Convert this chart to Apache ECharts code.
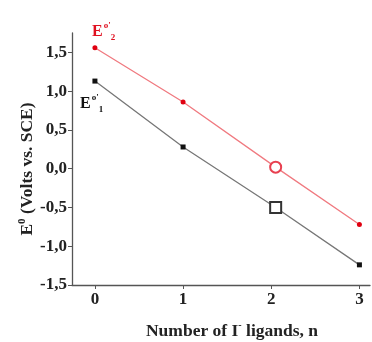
<!DOCTYPE html>
<html><head><meta charset="utf-8">
<script src="https://cdn.jsdelivr.net/npm/echarts@6/dist/echarts.min.js"></script>
<style>html,body{margin:0;padding:0;background:#fff}#c{width:372px;height:342px}</style>
</head><body><div id="c"></div>
<script>
const nValues = [0, 1, 2.05, 3];
const e2Values = [1.56, 0.86, 0.02, -0.72];
const e1Values = [1.13, 0.28, -0.50, -1.24];
const openIndex = 2;
const yTicks = [-1.5, -1.0, -0.5, 0.0, 0.5, 1.0, 1.5];
const xTicks = [0, 1, 2, 3];

const FONT = '"Liberation Serif", "Times New Roman", serif';
const chart = echarts.init(document.getElementById('c'));

function buildData(ys, openSym, openColor, openSize) {
  return nValues.map((x, i) => {
    const d = {value: [x, ys[i]]};
    if (i === openIndex) {
      d.symbol = openSym;
      d.symbolSize = openSize;
      d.itemStyle = {color: openColor, borderWidth: 1.3};
    }
    return d;
  });
}

chart.setOption({
  animation: false,
  grid: {left: 72, right: 2, top: 33, bottom: 57},
  xAxis: {
    type: 'value', min: -0.26, max: 3.12,
    interval: 1,
    axisLine: {show: true, onZero: false, lineStyle: {color: '#555', width: 1.3}},
    axisTick: {show: true, length: 4, lineStyle: {color: '#555'}, customValues: xTicks},
    axisLabel: {fontFamily: FONT, fontWeight: 'bold', fontSize: 17, color: '#222', margin: 6,
      customValues: xTicks, formatter: v => String(v)},
    splitLine: {show: false}
  },
  yAxis: {
    type: 'value', min: -1.5, max: 1.75, interval: 0.5,
    axisLine: {show: true, onZero: false, lineStyle: {color: '#555', width: 1.3}},
    axisTick: {show: true, length: 4, lineStyle: {color: '#555'}},
    axisLabel: {fontFamily: FONT, fontWeight: 'bold', fontSize: 17, color: '#222', margin: 5,
      showMaxLabel: false,
      formatter: v => yTicks.some(t => Math.abs(t - v) < 1e-6) ? v.toFixed(1).replace('.', ',') : ''},
    splitLine: {show: false}
  },
  series: [
    {
      type: 'line', data: buildData(e2Values, 'emptyCircle', '#e84050', 11),
      symbol: 'circle', symbolSize: 5,
      itemStyle: {color: '#e00010'},
      lineStyle: {color: '#f07a80', width: 1.3}
    },
    {
      type: 'line', data: buildData(e1Values, 'emptyRect', '#333', 11),
      symbol: 'rect', symbolSize: 5,
      itemStyle: {color: '#111'},
      lineStyle: {color: '#777', width: 1.3}
    }
  ],
  graphic: [
    {type: 'text', x: 27, y: 169, rotation: Math.PI / 2, style: {
      text: '{b|E}{s|0}{b| (Volts vs. SCE)}', align: 'center', verticalAlign: 'middle',
      rich: {
        b: {fontFamily: FONT, fontWeight: 'bold', fontSize: 17.5, fill: '#222'},
        s: {fontFamily: FONT, fontWeight: 'bold', fontSize: 11, fill: '#222', padding: [0, 0, 9, 0]}
      }}},
    {type: 'text', x: 232, y: 331, style: {
      text: '{b|Number of I}{s|-}{b| ligands, n}', align: 'center', verticalAlign: 'middle',
      rich: {
        b: {fontFamily: FONT, fontWeight: 'bold', fontSize: 17.5, fill: '#222'},
        s: {fontFamily: FONT, fontWeight: 'bold', fontSize: 10, fill: '#222', padding: [0, 0, 11, 0]}
      }}},
    {type: 'text', x: 92, y: 32, style: {
      text: "{b|E}{s|o'}{u|2}", align: 'left', verticalAlign: 'middle',
      rich: {
        b: {fontFamily: FONT, fontWeight: 'bold', fontSize: 16, fill: '#e01020'},
        s: {fontFamily: FONT, fontWeight: 'bold', fontSize: 9, fill: '#e01020', padding: [0, 0, 13, 1]},
        u: {fontFamily: FONT, fontWeight: 'bold', fontSize: 9, fill: '#e01020', padding: [12, 0, 0, 0]}
      }}},
    {type: 'text', x: 80, y: 104, style: {
      text: "{b|E}{s|o'}{u|1}", align: 'left', verticalAlign: 'middle',
      rich: {
        b: {fontFamily: FONT, fontWeight: 'bold', fontSize: 16, fill: '#111'},
        s: {fontFamily: FONT, fontWeight: 'bold', fontSize: 9, fill: '#111', padding: [0, 0, 13, 1]},
        u: {fontFamily: FONT, fontWeight: 'bold', fontSize: 9, fill: '#111', padding: [12, 0, 0, 0]}
      }}}
  ]
});
</script></body></html>
